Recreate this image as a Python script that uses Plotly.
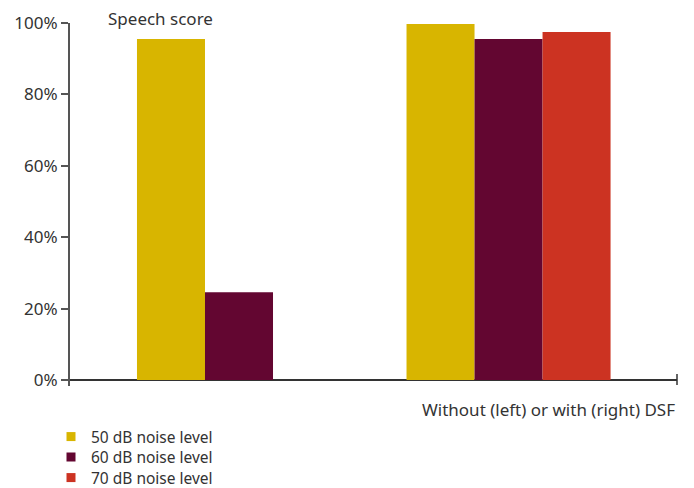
import plotly.graph_objects as go

categories = ["Without DSF", "With DSF"]
series_names = ["50 dB noise level", "60 dB noise level", "70 dB noise level"]
series_values = [
    [95.5, 99.7],
    [24.6, 95.5],
    [None, 97.5],
]
colors = ["#D8B500", "#630631", "#CC3322"]
y_ticks = [0, 20, 40, 60, 80, 100]
y_ticklabels = ["0%", "20%", "40%", "60%", "80%", "100%"]

FONT = "Noto Sans"
FS = 17
LFS = 15.5
TXT = "#333333"
legend_ids = ["legend", "legend2", "legend3"]

fig = go.Figure()
for name, vals, col in zip(series_names, series_values, colors):
    fig.add_trace(go.Bar(x=categories, y=vals, name=name, marker_color=col,
                         marker_line_width=0, showlegend=False))
# legend markers
for name, col, lid in zip(series_names, colors, legend_ids):
    fig.add_trace(go.Scatter(x=[None], y=[None], mode="markers", name=name, legend=lid,
                             marker=dict(symbol="square", size=9, color=col)))

def leg(yc):
    return dict(x=51/694, y=1 - yc/488, xref="container", yref="container",
                xanchor="left", yanchor="middle", font=dict(size=LFS, color=TXT),
                itemwidth=30, bgcolor="rgba(0,0,0,0)", borderwidth=0)

fig.update_layout(
    width=694, height=488,
    margin=dict(l=70, r=17, t=23, b=102, autoexpand=False),
    paper_bgcolor="white", plot_bgcolor="white",
    barmode="group", bargap=0.243, bargroupgap=0,
    font=dict(family=FONT, size=FS, color=TXT),
    showlegend=True,
    legend=leg(437), legend2=leg(457.5), legend3=leg(478),
    xaxis=dict(type="category", range=[-0.627, 1.625], showticklabels=False,
               showgrid=False, showline=False, ticks="", zeroline=False),
    yaxis=dict(range=[-1.7, 100], tickvals=y_ticks, ticktext=y_ticklabels,
               showgrid=False, showline=True, linecolor="#555555", linewidth=2,
               ticks="outside", ticklen=7, tickcolor="#555555", tickwidth=1.5,
               zeroline=True, zerolinecolor="#333333", zerolinewidth=1.5,
               tickfont=dict(size=FS, color=TXT)),
    annotations=[
        dict(text="Speech score", xref="paper", yref="paper", x=(106-70)/607, y=1.0,
             xanchor="left", yanchor="middle", yshift=5, showarrow=False,
             font=dict(size=FS, color=TXT)),
        dict(text="Without (left) or with (right) DSF", xref="paper", yref="y",
             x=1.0, y=0, xanchor="right", yanchor="middle", yshift=-30,
             showarrow=False, font=dict(size=FS, color=TXT)),
    ],
    shapes=[
        dict(type="line", xref="paper", x0=1, x1=1, yref="y", ysizemode="pixel",
             yanchor=0, y0=-5, y1=6, line=dict(color="#333333", width=1.5)),
    ],
)

fig.write_html("out.html")
